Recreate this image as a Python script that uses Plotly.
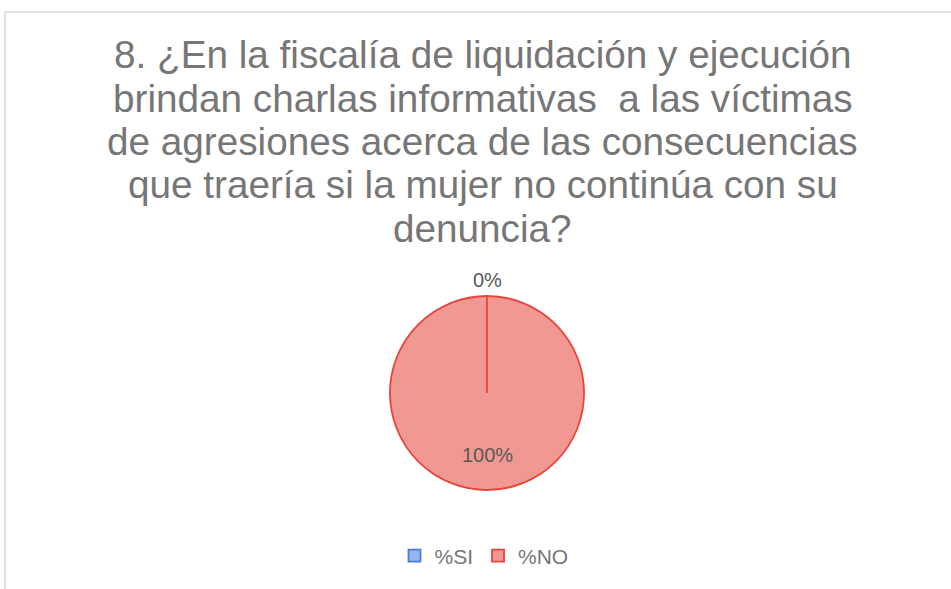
import plotly.graph_objects as go

# data
categorias = ["%SI", "%NO"]
valores = [0, 100]
titulo = [
    "8. ¿En la fiscalía de liquidación y ejecución",
    "brindan charlas informativas  a las víctimas",
    "de agresiones acerca de las consecuencias",
    "que traería si la mujer no continúa con su",
    "denuncia?",
]

W, H = 951, 589
gris = "#767676"
fuente = "Liberation Sans, Arial"

# pie geometry in pixels (top-left origin)
cx, cy, r = 487, 393, 97
dom_x = [(cx - r) / W, (cx + r) / W]
dom_y = [(H - cy - r) / H, (H - cy + r) / H]

fig = go.Figure()
fig.add_trace(go.Pie(
    labels=categorias,
    values=valores,
    sort=False,
    direction="clockwise",
    rotation=0,
    textinfo="none",
    marker=dict(colors=["#9ab5ee", "#f29893"],
                line=dict(color=["#4a7be0", "#e8443a"], width=1.8)),
    domain=dict(x=dom_x, y=dom_y),
    hoverinfo="label+percent",
))

# boundary between the (empty) %SI slice and %NO, from centre to 12 o'clock
fig.add_shape(type="line", xref="paper", yref="paper",
              x0=cx / W, x1=cx / W, y0=(H - cy) / H, y1=dom_y[1],
              line=dict(color="#e8443a", width=1.8))

# percentage labels: %SI outside at the top, %NO inside near the bottom
total = sum(valores)
pct = [f"{v / total * 100:.0f}%" for v in valores]
fig.add_annotation(text=pct[0], xref="paper", yref="paper",
                   x=cx / W, y=(H - (cy - r - 16)) / H,
                   xanchor="center", yanchor="middle", showarrow=False,
                   font=dict(family=fuente, size=20, color="#595959"))
fig.add_annotation(text=pct[1], xref="paper", yref="paper",
                   x=cx / W, y=(H - (cy + 0.64 * r)) / H,
                   xanchor="center", yanchor="middle", showarrow=False,
                   font=dict(family=fuente, size=20, color="#595959"))

# title lines (Plotly's own line spacing is too tight, so one annotation per line)
for i, linea in enumerate(titulo):
    fig.add_annotation(
        text=linea, xref="paper", yref="paper",
        x=483 / W, y=1 - (55 + i * 43.3) / H,
        xanchor="center", yanchor="middle", showarrow=False,
        font=dict(family=fuente, size=38.7, color=gris),
    )

# chart area border
fig.add_shape(type="rect", xref="paper", yref="paper",
              x0=5 / W, x1=1.01, y0=-0.01, y1=1 - 12 / H,
              line=dict(color="#d9d9d9", width=1.5))

fig.update_layout(
    width=W, height=H,
    margin=dict(l=0, r=0, t=0, b=0),
    paper_bgcolor="white",
    plot_bgcolor="white",
    showlegend=True,
    legend=dict(orientation="h", x=484 / W, xanchor="center",
                y=1 - 556 / H, yanchor="middle",
                font=dict(family=fuente, size=21, color=gris),
                itemwidth=30, traceorder="normal"),
)

fig.write_html("out.html", config={"displayModeBar": False},
               post_script="document.body.style.margin='0';")
